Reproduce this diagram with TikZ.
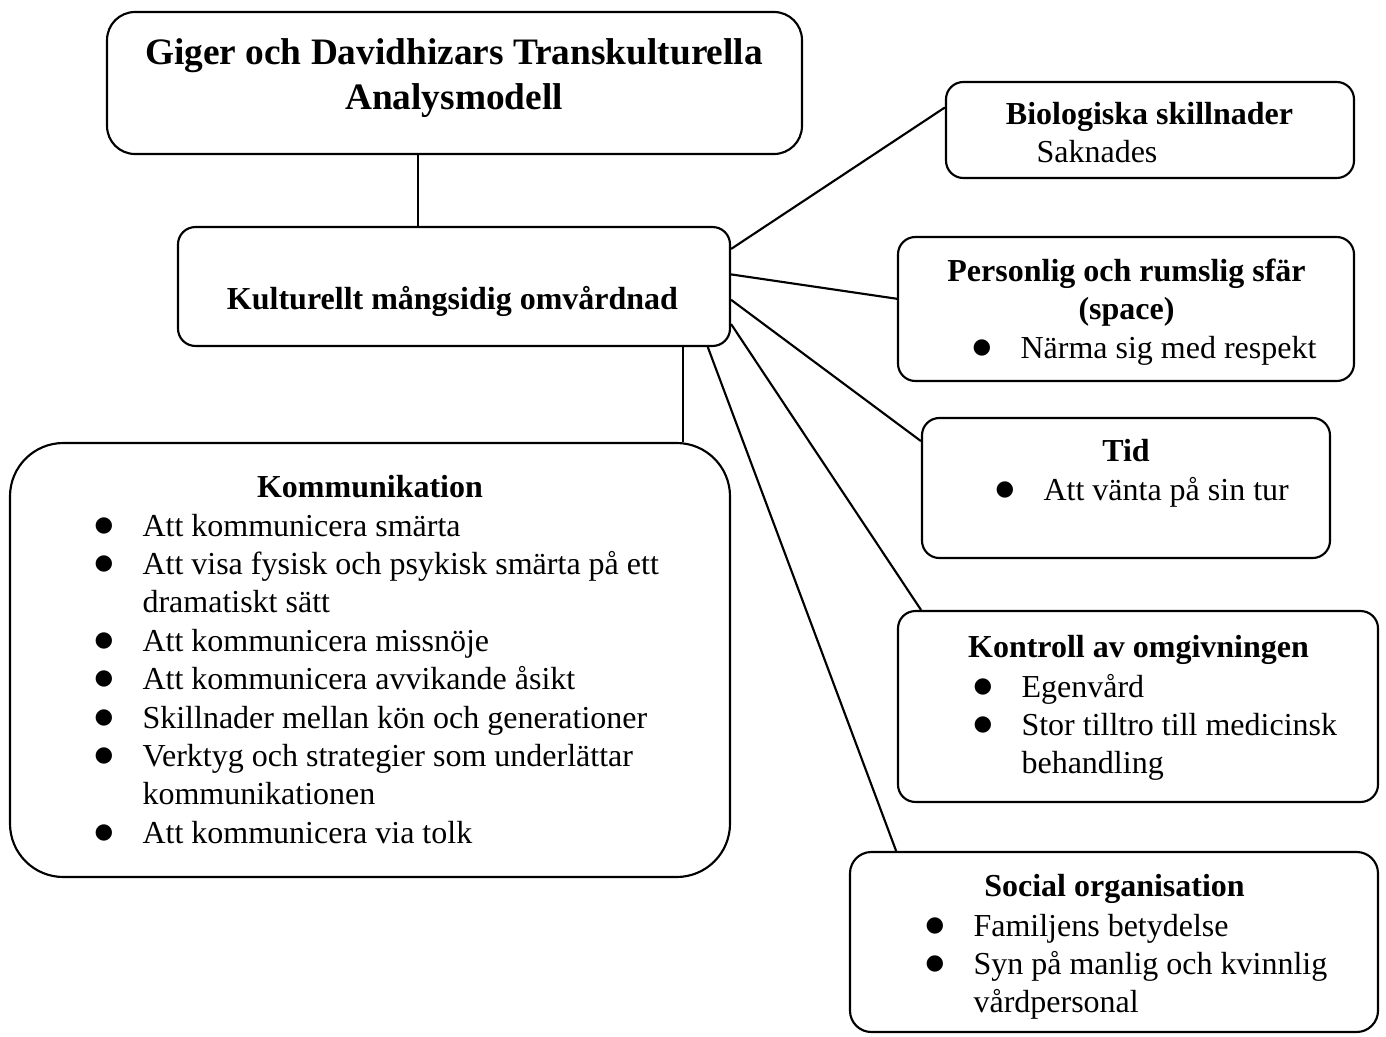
\documentclass[tikz,border=0pt]{standalone}
\usepackage{fontspec}
\setmainfont{Liberation Serif}
\newfontfamily\punktfont{DejaVu Sans}
\usetikzlibrary{calc}
\newcommand\punkt{\makebox[18pt][l]{\fontsize{8}{8}\punktfont\raisebox{1.8pt}{●}}}
\tikzset{
    % Frame of one part of the model, corner radius as the value
    rounded box/.style={draw, line width=0.8pt, rounded corners=#1,
        inner sep=0},
    rounded box/.default=6.5pt,
%
    % Bold headings, placed on their baseline
    heading text/.style={font=\bfseries\fontsize{12}{14.4}\selectfont,
        inner sep=0, anchor=base},
%
    % Bullet lists, placed on the baseline of their first line
    list text/.style={font=\fontsize{12}{14.4}\selectfont,
        inner sep=0, anchor=base west},
%
    % The plain lines between the boxes
    link line/.style={line width=0.8pt}}

\begin{document}
\begin{tikzpicture}[x=0.375pt, y=-0.375pt]

\useasboundingbox (0,0) rectangle (1386,1036);

% the boxes
\node [rounded box=10.5pt, minimum width=260.6pt, minimum height=53.25pt]
    (model title) at (454.5,83) {};
\node [rounded box, minimum width=207pt, minimum height=44.6pt]
    (care) at (454,286.5) {};
\node [rounded box=20pt, minimum width=270pt, minimum height=162.75pt]
    (communication) at (370,660) {};
\node [rounded box, minimum width=153pt, minimum height=36pt]
    (biology) at (1150,130) {};
\node [rounded box, minimum width=171pt, minimum height=54pt]
    (space) at (1126,309) {};
\node [rounded box, minimum width=153pt, minimum height=52.5pt]
    (time) at (1126,488) {};
\node [rounded box, minimum width=180pt, minimum height=71.6pt]
    (control) at (1138,706.5) {};
\node [rounded box=8pt, minimum width=198pt, minimum height=67.5pt]
    (social) at (1114,942) {};

% the texts
\node [heading text, anchor=center, align=center,
    font=\bfseries\fontsize{14}{17}\selectfont] (model title text) at (454,78)
    {Giger och Davidhizars Transkulturella\\Analysmodell};
\node [heading text] (care text) at (452.5,309)
    {Kulturellt mångsidig omvårdnad};

\node [heading text] (communication head) at (370,497) {Kommunikation};
\node [list text] (communication list) at (94,536)
{\begin{tabular}[t]{@{}l@{}l@{}}
\punkt & Att kommunicera smärta\\
\punkt & Att visa fysisk och psykisk smärta på ett\\
       & dramatiskt sätt\\
\punkt & Att kommunicera missnöje\\
\punkt & Att kommunicera avvikande åsikt\\
\punkt & Skillnader mellan kön och generationer\\
\punkt & Verktyg och strategier som underlättar\\
       & kommunikationen\\
\punkt & Att kommunicera via tolk
\end{tabular}};

\node [heading text] (biology head) at (1149.5,124) {Biologiska skillnader};
\node [list text] (biology list) at (1036,162) {Saknades};

\node [heading text] (space head) at (1126.5,281) {Personlig och rumslig sfär};
\node [heading text] (space head two) at (1126.5,319) {(space)};
\node [list text] (space list) at (972,358)
{\begin{tabular}[t]{@{}l@{}l@{}}
\punkt & Närma sig med respekt
\end{tabular}};

\node [heading text] (time head) at (1126,461) {Tid};
\node [list text] (time list) at (995,500)
{\begin{tabular}[t]{@{}l@{}l@{}}
\punkt & Att vänta på sin tur
\end{tabular}};

\node [heading text] (control head) at (1138.5,657) {Kontroll av omgivningen};
\node [list text] (control list) at (973,697)
{\begin{tabular}[t]{@{}l@{}l@{}}
\punkt & Egenvård\\
\punkt & Stor tilltro till medicinsk\\
       & behandling
\end{tabular}};

\node [heading text] (social head) at (1114.5,896) {Social organisation};
\node [list text] (social list) at (925,936)
{\begin{tabular}[t]{@{}l@{}l@{}}
\punkt & Familjens betydelse\\
\punkt & Syn på manlig och kvinnlig\\
       & vårdpersonal
\end{tabular}};

% the links
\draw [link line]
    ($(model title.south west)!0.448!(model title.south east)$) coordinate (title foot)
    -- (title foot |- care.north);
\draw [link line]
    ($(care.south west)!0.913!(care.south east)$) coordinate (care foot)
    -- (care foot |- communication.north);
\draw [link line]
    ($(care.north east)!0.19!(care.south east)$)
    -- ($(biology.north west)!0.27!(biology.south west)$);
\draw [link line]
    ($(care.north east)!0.40!(care.south east)$)
    -- ($(space.north west)!0.43!(space.south west)$);
\draw [link line]
    ($(care.north east)!0.61!(care.south east)$)
    -- ($(time.north west)!0.17!(time.south west)$);
\draw [link line]
    ($(care.north east)!0.81!(care.south east)$)
    -- ($(control.north west)!0.05!(control.north east)$);
\draw [link line]
    ($(care.south west)!0.958!(care.south east)$)
    -- ($(social.north west)!0.089!(social.north east)$);

\end{tikzpicture}
\end{document}
